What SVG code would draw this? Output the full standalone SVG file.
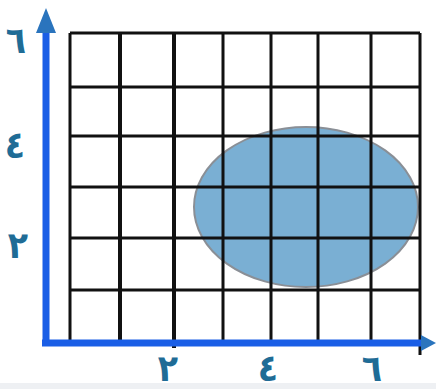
<svg xmlns="http://www.w3.org/2000/svg" width="436" height="389" viewBox="0 0 436 389">
<defs>
<style>
.grid line{stroke:#111;stroke-width:3}
.axis{stroke:#1a5ee6;stroke-width:7;fill:none}
.head{fill:#2a74bd}
.lbl{font-family:"DejaVu Sans Condensed","DejaVu Sans",sans-serif;font-stretch:condensed;font-weight:bold;font-size:37px;fill:#1f6c96;text-anchor:middle}
</style>
</defs>
<rect width="436" height="389" fill="#ffffff"/>
<rect x="0" y="383" width="436" height="6" fill="#eef0f3"/>
<g id="region">
<ellipse cx="306" cy="207" rx="112" ry="80" fill="#7aafd3" stroke="#8a8f96" stroke-width="2"/>
</g>
<g id="grid" class="grid">
<line x1="70" y1="33" x2="70" y2="343"/>
<line x1="120" y1="33" x2="120" y2="343" style="stroke-width:4"/>
<line x1="174" y1="33" x2="174" y2="348" style="stroke-width:4"/>
<line x1="223" y1="33" x2="223" y2="343"/>
<line x1="271" y1="33" x2="271" y2="343"/>
<line x1="318" y1="33" x2="318" y2="343"/>
<line x1="371" y1="33" x2="371" y2="343"/>
<line x1="420" y1="33" x2="420" y2="355"/>
<line x1="70" y1="33" x2="420" y2="33"/>
<line x1="70" y1="87" x2="420" y2="87"/>
<line x1="70" y1="136" x2="420" y2="136"/>
<line x1="70" y1="187" x2="420" y2="187"/>
<line x1="70" y1="238" x2="420" y2="238"/>
<line x1="70" y1="290" x2="420" y2="290"/>
</g>
<g id="axes">
<path class="axis" d="M46 346 V30"/>
<path class="axis" d="M42 343 H422"/>
<polygon class="head" points="46,8 56,33 36,33"/>
<polygon class="head" points="436,343 421,335 421,351"/>
</g>
<g id="labels">
<text class="lbl" x="16" y="53">٦</text>
<text class="lbl" x="15" y="158">٤</text>
<text class="lbl" x="18" y="258">٢</text>
<text class="lbl" x="168" y="381">٢</text>
<text class="lbl" x="268" y="381">٤</text>
<text class="lbl" x="372" y="381">٦</text>
</g>
</svg>
